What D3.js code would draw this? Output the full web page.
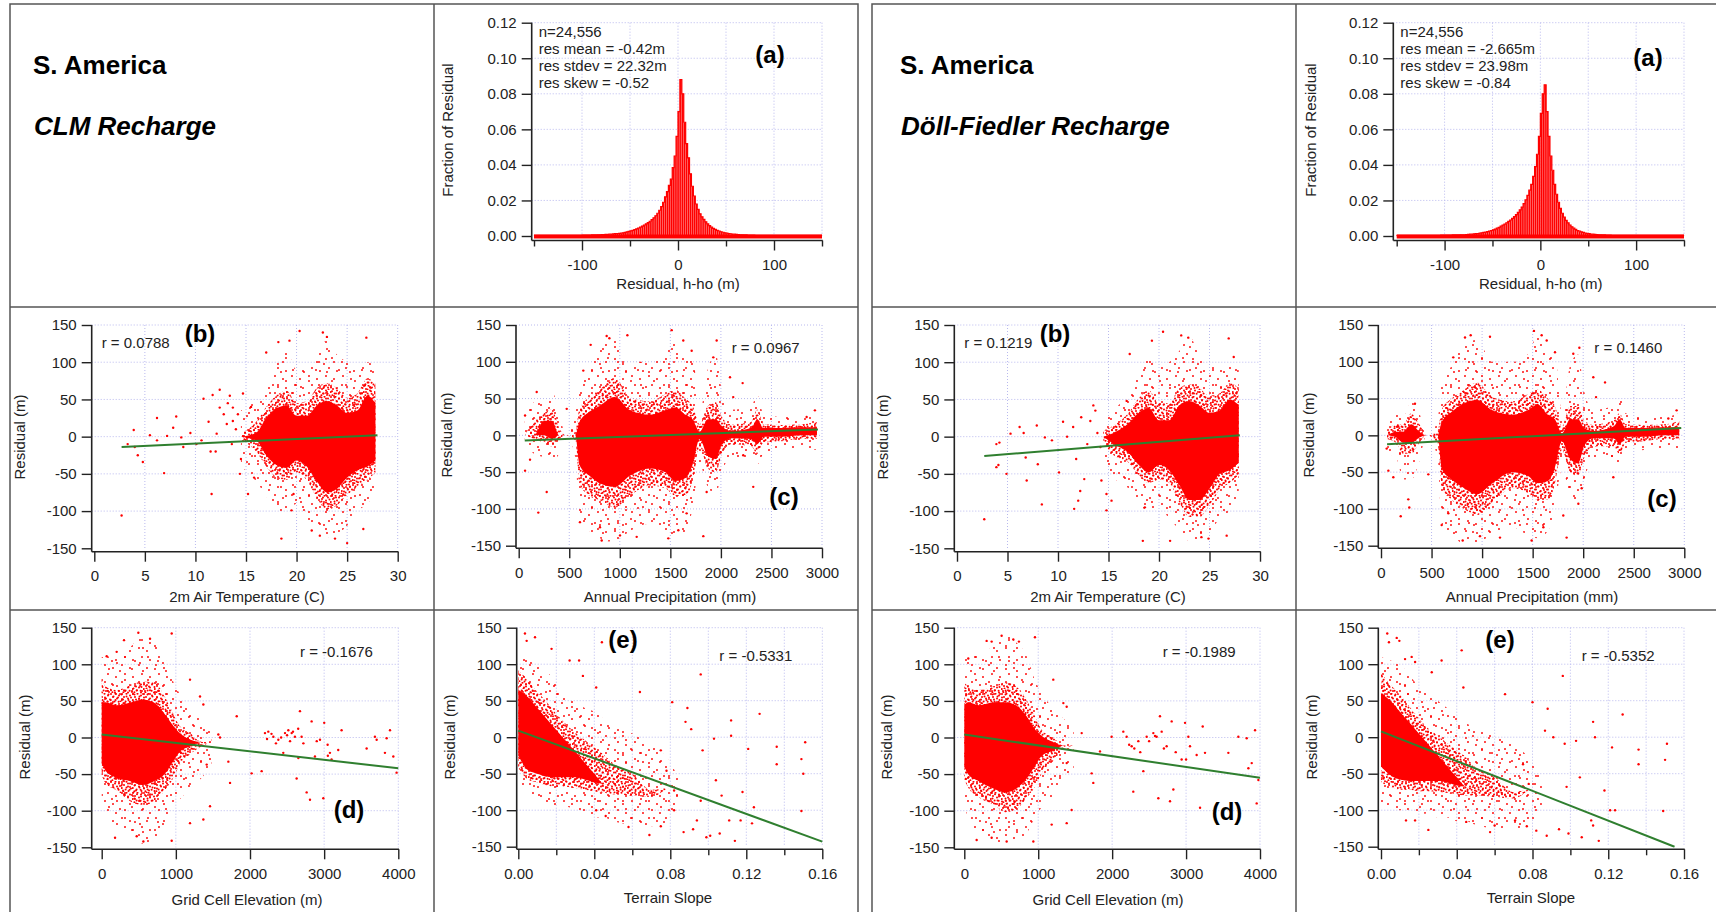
<!DOCTYPE html>
<html>
<head>
<meta charset="utf-8">
<script src="https://cdn.jsdelivr.net/npm/d3@7"></script>
<style>
  body { margin: 0; background: #fff; }
  svg { display: block; }
  text { font-family: Arial, "Liberation Sans", sans-serif; }
</style>
</head>
<body>
<div id="chart"></div>
<script>
// ---------- data ----------
var histBinStart = -150, histBinWidth = 2;

// fraction of residual per 2 m bin, -150 .. 150
var clmHist = [
  0.0003,0.0003,0.0003,0.0003,0.0003,0.0003,0.0003,0.0003,0.0003,0.0003,
  0.0003,0.0003,0.0003,0.0003,0.0003,0.0003,0.0003,0.0004,0.0004,0.0004,
  0.0004,0.0004,0.0004,0.0004,0.0004,0.0005,0.0005,0.0005,0.0005,0.0005,
  0.0006,0.0006,0.0006,0.0007,0.0007,0.0008,0.0008,0.0009,0.0009,0.0010,
  0.0011,0.0012,0.0013,0.0014,0.0015,0.0016,0.0018,0.0020,0.0023,0.0026,
  0.0029,0.0032,0.0036,0.0040,0.0045,0.0050,0.0056,0.0062,0.0068,0.0075,
  0.0083,0.0092,0.0102,0.0114,0.0128,0.0145,0.0165,0.0190,0.0220,0.0250,
  0.0285,0.0320,0.0385,0.0450,0.0560,0.0700,0.0880,0.0800,0.0640,0.0520,
  0.0440,0.0350,0.0280,0.0225,0.0180,0.0150,0.0125,0.0108,0.0094,0.0080,
  0.0068,0.0058,0.0050,0.0043,0.0037,0.0032,0.0028,0.0024,0.0021,0.0018,
  0.0016,0.0014,0.0012,0.0011,0.0010,0.0009,0.0008,0.0007,0.0007,0.0006,
  0.0006,0.0005,0.0005,0.0005,0.0005,0.0004,0.0004,0.0004,0.0004,0.0004,
  0.0003,0.0003,0.0003,0.0003,0.0003,0.0003,0.0003,0.0003,0.0003,0.0003,
  0.0003,0.0003,0.0003,0.0003,0.0003,0.0003,0.0003,0.0003,0.0003,0.0003,
  0.0003,0.0003,0.0003,0.0003,0.0003,0.0003,0.0003,0.0003,0.0003,0.0003
];
var dfHist = [
  0.0003,0.0003,0.0003,0.0003,0.0003,0.0003,0.0003,0.0003,0.0003,0.0003,
  0.0003,0.0003,0.0003,0.0003,0.0003,0.0004,0.0004,0.0004,0.0004,0.0004,
  0.0004,0.0004,0.0004,0.0005,0.0005,0.0005,0.0005,0.0005,0.0005,0.0006,
  0.0006,0.0006,0.0006,0.0007,0.0007,0.0007,0.0008,0.0009,0.0010,0.0011,
  0.0012,0.0013,0.0014,0.0016,0.0018,0.0020,0.0022,0.0025,0.0028,0.0031,
  0.0035,0.0039,0.0044,0.0049,0.0055,0.0061,0.0067,0.0074,0.0082,0.0090,
  0.0099,0.0109,0.0120,0.0133,0.0147,0.0163,0.0182,0.0203,0.0228,0.0258,
  0.0290,0.0335,0.0390,0.0460,0.0560,0.0690,0.0800,0.0850,0.0700,0.0560,
  0.0450,0.0370,0.0290,0.0235,0.0190,0.0155,0.0128,0.0106,0.0088,0.0074,
  0.0062,0.0052,0.0044,0.0037,0.0031,0.0027,0.0023,0.0020,0.0017,0.0015,
  0.0013,0.0011,0.0010,0.0009,0.0008,0.0007,0.0007,0.0006,0.0006,0.0005,
  0.0005,0.0005,0.0004,0.0004,0.0004,0.0004,0.0004,0.0004,0.0004,0.0004,
  0.0003,0.0003,0.0003,0.0003,0.0003,0.0003,0.0003,0.0003,0.0003,0.0003,
  0.0003,0.0003,0.0003,0.0003,0.0003,0.0003,0.0003,0.0003,0.0003,0.0003,
  0.0003,0.0003,0.0003,0.0003,0.0003,0.0003,0.0003,0.0003,0.0003,0.0003
];
var clmStats = ['n=24,556', 'res mean = -0.42m', 'res stdev = 22.32m', 'res skew = -0.52'];
var dfStats  = ['n=24,556', 'res mean = -2.665m', 'res stdev = 23.98m', 'res skew = -0.84'];

// point clouds: [x, sparseLo, denseLo, solidLo, solidHi, denseHi, sparseHi] in residual metres
var clmTempCloud = [[14.5,-40,-5,0,0,5,35],[16,-60,-20,-5,5,20,50],[17,-80,-40,-25,25,40,70],[18,-100,-55,-38,38,55,100],
  [19,-100,-58,-42,42,62,115],[20,-90,-48,-32,28,45,90],[21,-110,-58,-40,28,48,90],[22,-120,-82,-60,42,65,110],
  [23,-135,-98,-75,48,72,130],[24,-130,-92,-70,42,65,110],[25,-120,-78,-55,32,52,100],[26,-100,-68,-45,35,58,90],
  [27,-90,-58,-40,55,78,100],[27.8,-75,-48,-32,45,72,95]];
var dfTempCloud = [[14.5,-35,-8,0,0,8,20],[15.5,-55,-25,-10,5,15,35],[17,-70,-35,-22,18,32,60],[18,-90,-52,-38,32,52,90],
  [19,-100,-62,-48,38,62,110],[20,-95,-58,-38,22,45,95],[21,-110,-62,-45,22,45,100],[22,-125,-88,-65,42,65,115],
  [23,-140,-108,-85,48,70,135],[24,-140,-108,-85,42,65,110],[25,-130,-92,-70,32,55,100],[26,-110,-72,-50,35,58,90],
  [27,-100,-62,-45,50,72,95],[27.9,-80,-52,-35,42,65,90]];
var clmPrecipCloud = [[60,-10,0,0,0,0,25],[150,-25,-5,0,0,20,45],[250,-30,-10,0,20,30,50],[330,-35,-15,-5,20,35,60],
  [400,-25,-5,0,0,10,30],[470,0,0,0,0,0,0],[560,-30,-5,0,0,5,30],[600,-110,-65,-40,18,35,60],[700,-130,-82,-55,32,52,90],
  [800,-140,-88,-65,40,62,120],[950,-145,-98,-70,52,78,130],[1100,-130,-82,-55,34,52,100],[1300,-120,-68,-45,28,46,100],
  [1450,-130,-72,-50,34,56,110],[1550,-140,-82,-62,38,62,130],[1650,-130,-82,-58,28,50,110],[1720,-100,-62,-40,22,40,110],
  [1790,-40,-15,-5,5,15,30],[1870,-70,-45,-28,22,40,90],[1950,-80,-50,-32,22,45,110],[2010,-50,-25,-12,12,25,60],
  [2100,-30,-12,-4,6,15,35],[2300,-30,-15,-5,10,18,40],[2360,-40,-25,-12,22,35,55],[2420,-25,-10,-2,10,15,30],
  [2600,-20,-8,-2,10,14,25],[2800,-18,-5,0,11,15,25],[2950,-20,-5,0,11,18,30]];
var dfPrecipCloud = [[60,-25,-5,0,0,5,15],[150,-30,-10,-3,5,15,30],[220,-60,-25,-10,5,15,25],[300,-60,-25,-10,15,30,45],
  [380,-35,-10,-3,5,15,30],[450,0,0,0,0,0,0],[560,-30,-10,0,0,5,20],[600,-120,-70,-45,18,35,70],[700,-135,-88,-60,32,50,95],
  [800,-145,-98,-70,42,60,120],[950,-145,-108,-80,48,72,130],[1100,-135,-92,-65,34,52,100],[1300,-125,-72,-50,28,46,100],
  [1450,-135,-78,-55,34,56,110],[1550,-140,-88,-65,42,62,135],[1650,-130,-88,-62,28,50,110],[1720,-100,-66,-44,22,40,110],
  [1790,-45,-20,-8,3,12,30],[1870,-80,-50,-32,22,40,95],[1950,-90,-55,-38,22,40,110],[2010,-60,-30,-14,10,20,60],
  [2100,-30,-15,-4,6,15,35],[2300,-30,-15,-4,12,20,40],[2360,-40,-25,-12,22,30,55],[2420,-25,-10,-2,10,15,30],
  [2600,-20,-8,-2,10,14,25],[2800,-18,-5,0,11,15,25],[2950,-20,-5,0,11,20,30]];
var clmElevCloud = [[0,-80,-52,-35,48,80,110],[50,-100,-62,-45,48,70,110],[200,-120,-72,-55,44,65,115],[400,-135,-88,-60,48,72,125],
  [550,-145,-92,-65,52,76,140],[700,-140,-88,-60,48,76,135],[850,-120,-72,-50,32,56,110],[950,-100,-58,-35,18,36,80],
  [1050,-85,-38,-20,6,16,60],[1200,-70,-22,-12,-3,5,35],[1350,-55,-12,-6,-6,-6,25],[1480,-40,-6,-6,-6,-6,10]];
var dfElevCloud = [[0,-90,-58,-40,44,75,110],[50,-110,-68,-50,48,70,110],[200,-130,-82,-60,44,65,115],[400,-140,-92,-70,48,70,125],
  [550,-145,-102,-75,48,75,140],[700,-140,-98,-70,44,70,130],[850,-130,-82,-55,28,50,110],[950,-110,-68,-40,12,30,80],
  [1050,-95,-48,-25,2,10,60],[1200,-80,-32,-18,-6,0,40],[1350,-60,-16,-11,-11,-11,25],[1480,-45,-11,-11,-11,-11,15]];
var clmSlopeCloud = [[0,-60,-42,-25,65,92,115],[0.005,-75,-58,-45,55,78,110],[0.01,-85,-62,-50,40,62,100],[0.015,-90,-66,-54,25,48,90],
  [0.02,-95,-68,-55,10,32,75],[0.025,-95,-68,-55,-5,18,60],[0.03,-100,-70,-55,-20,6,50],[0.035,-105,-72,-58,-35,-4,40],
  [0.04,-110,-74,-62,-50,-14,35],[0.045,-110,-76,-64,-64,-24,25],[0.05,-115,-78,-66,-66,-36,15],[0.06,-120,-80,-70,-70,-50,5],
  [0.07,-122,-82,-75,-75,-72,-10],[0.08,-115,-70,-70,-70,-70,-35],[0.085,-90,-70,-70,-70,-70,-60]];
var dfSlopeCloud = [[0,-90,-62,-40,60,88,110],[0.005,-95,-68,-52,50,72,105],[0.01,-100,-72,-58,35,58,100],[0.015,-100,-72,-60,20,42,85],
  [0.02,-105,-74,-60,5,26,70],[0.025,-105,-74,-60,-10,12,60],[0.03,-110,-75,-60,-25,2,50],[0.035,-110,-76,-62,-40,-8,40],
  [0.04,-115,-78,-66,-55,-18,30],[0.045,-115,-80,-68,-68,-28,20],[0.05,-120,-80,-70,-70,-42,10],[0.06,-125,-82,-72,-72,-55,5],
  [0.07,-125,-84,-78,-78,-75,-10],[0.08,-118,-72,-72,-72,-72,-35],[0.085,-95,-72,-72,-72,-72,-60]];

// isolated points outside the clouds: [x, residual]
var clmTempPts = [[2.7,-106],[3.9,9],[4.0,-14],[4.8,-34],[6.2,25],[6.9,-49],[8.1,27],[8.6,-1],[7.8,12],[10.8,51],[11.7,56],
  [12.4,63],[11.6,-77],[13.4,55],[14.4,-50],[14.7,58],[15.2,-77],[17.0,113],[18.2,127],[19.3,129],[18.5,-137],[19.5,-99],
  [20.3,142],[22.6,140],[23.0,134],[25.0,-143],[26.9,133],[26.6,-124],[21.5,-126],[22.3,-133],[23.8,-137],[19.7,-77],
  [10.6,-5],[10.1,-10],[8.8,-14],[6.2,-5],[7.2,1],[12.1,4],[13.1,17],[13.7,21],[12.4,39],[13.7,39],[12.8,30],[13.2,45],
  [14.0,10],[14.2,30],[11.3,20],[12.0,-20],[13.6,-10],[14.5,-30],[15.5,40],[15.8,-55],[11.5,-20],[9.5,5],[5.5,2],[4.3,-25],[3.3,-10]];
var dfTempPts = [[2.7,-111],[3.9,-10],[4.2,-8],[3.9,-41],[4.1,-38],[4.9,-50],[5.3,4],[6.2,13],[6.6,5],[6.9,-59],[6.8,-28],
  [7.9,15],[8.0,-37],[8.4,-91],[8.7,-1],[9.4,-5],[10.1,-48],[10.9,0],[11.5,13],[11.6,-97],[12.0,-86],[12.2,-73],[12.3,26],
  [12.6,-57],[13.2,21],[13.5,42],[13.7,35],[14.2,-14],[14.3,-59],[14.8,-99],[14.8,-77],[15.3,-86],[16.8,48],[17.1,111],
  [18.4,-140],[18.6,-95],[19.3,129],[20.4,141],[22.2,136],[22.9,133],[24.9,-137],[26.7,-133],[26.9,132],[21.1,-140],
  [24.2,-135],[27.4,107],[12.9,-10],[13.9,5],[11.8,-30],[10.5,20]];
var clmPrecipPts = [[63,27],[112,-33],[63,-48],[178,59],[194,-105],[277,-77],[475,36],[639,88],[712,123],[870,135],[897,132],
  [1075,136],[821,-143],[1002,-136],[1167,-138],[1480,-140],[1513,143],[1628,129],[1711,115],[1826,-137],[1958,129],
  [1925,106],[2090,79],[2215,71],[2122,52],[2320,-70],[1859,-77],[2221,-27],[2930,34],[2848,25],[606,-118],[804,-125],
  [1579,-129],[1661,-106]];
var dfPrecipPts = [[56,-18],[73,-48],[122,-57],[171,12],[195,-110],[270,-87],[280,-98],[336,43],[468,-53],[715,106],[831,133],
  [887,136],[1078,134],[979,-137],[808,-143],[1177,-139],[1490,-143],[1513,142],[1589,136],[1639,129],[1721,113],
  [1836,-139],[1902,111],[1962,119],[2100,79],[2216,72],[2127,52],[2298,-57],[1985,-72],[1952,-93],[2924,34],[2842,23],
  [1803,-109],[1606,-125],[600,-122],[666,-106]];
var clmElevPts = [[67,111],[301,133],[202,117],[494,143],[652,135],[944,142],[180,-137],[472,-135],[562,-142],[944,-141],
  [1191,79],[1326,56],[1371,45],[1371,-112],[1191,-117],[1461,-94],[1416,-37],[1573,4],[1596,0],[1708,-33],[1731,-62],
  [1821,29],[2022,-49],[2157,-46],[2202,6],[2247,8],[2315,1],[2382,-3],[2449,-21],[2472,6],[2517,10],[2562,6],[2606,1],
  [2629,-56],[2652,-28],[2696,1],[2674,36],[2764,-75],[2809,-85],[2831,22],[2876,-26],[2944,-3],[2989,-83],[3001,20],
  [3047,-10],[3078,-21],[3235,10],[3190,-17],[3573,-15],[3685,1],[3708,-3],[3843,-1],[3888,10],[3820,-21],[3933,-26],
  [3977,-48],[2230,-2],[2290,5],[2350,-8],[2420,0],[2500,3],[2540,-5],[2580,8],[2650,12],[2720,-8],[2900,-5],[3050,-25],[3100,-30]];
var dfElevPts = [[54,108],[302,132],[370,131],[505,139],[663,134],[739,131],[956,137],[167,-140],[370,-137],[573,-142],
  [934,-142],[1204,79],[1340,47],[1385,42],[1182,-119],[1385,-117],[1452,-99],[1385,-35],[1588,6],[1723,-49],[1745,-62],
  [1836,-19],[1993,1],[2151,8],[2196,1],[2264,-12],[2354,-5],[2286,-74],[2422,-46],[2467,1],[2557,6],[2602,1],[2670,8],
  [2647,29],[2625,-83],[2783,-87],[2828,-71],[2737,-12],[2805,22],[2940,-30],[2986,20],[3031,1],[3053,-12],[3143,-24],
  [3189,-96],[3225,15],[3256,-21],[3572,-21],[3707,1],[3820,-1],[3888,-35],[3933,10],[3955,-90],[3978,-58],[3843,-42],
  [2230,-10],[2300,-15],[2380,-20],[2500,-5],[2580,2],[2700,-15],[2860,-20],[3000,-30]];
var clmSlopePts = [[0.0035,142],[0.0088,137],[0.0044,132],[0.0175,121],[0.027,105],[0.032,105],[0.044,130],[0.034,84],
  [0.041,68],[0.064,62],[0.081,48],[0.089,40],[0.096,86],[0.088,21],[0.091,11],[0.097,-18],[0.103,-2],[0.112,23],
  [0.112,2],[0.121,-16],[0.127,32],[0.136,-13],[0.136,-37],[0.149,-30],[0.151,-7],[0.150,-50],[0.149,-101],[0.118,-75],
  [0.124,-96],[0.117,-114],[0.123,-118],[0.114,-142],[0.111,-114],[0.106,-132],[0.099,-137],[0.101,-135],[0.087,-130],
  [0.092,-126],[0.094,-114],[0.082,-100],[0.075,-122],[0.069,-134],[0.058,-123],[0.046,-108],[0.041,-100],[0.096,-87],
  [0.104,-59],[0.078,-46],[0.075,-18],[0.082,-73],[0.107,-80]];
var dfSlopePts = [[0.0033,142],[0.0042,130],[0.0083,136],[0.0097,132],[0.0127,107],[0.0162,110],[0.018,103],[0.032,105],
  [0.0268,89],[0.0426,119],[0.0435,68],[0.0655,59],[0.080,48],[0.088,39],[0.096,84],[0.0866,9],[0.091,0],[0.097,-9],
  [0.103,-5],[0.112,21],[0.113,0],[0.122,-14],[0.1276,31],[0.136,-17],[0.136,-37],[0.150,-31],[0.151,-9],[0.149,-101],
  [0.1236,-100],[0.118,-73],[0.121,-100],[0.112,-121],[0.111,-114],[0.115,-142],[0.106,-137],[0.099,-132],[0.094,-126],
  [0.0875,-135],[0.082,-128],[0.077,-122],[0.0708,-114],[0.060,-121],[0.0576,-130],[0.045,-116],[0.025,-127],
  [0.0132,-114],[0.018,-114],[0.098,-68],[0.105,-55],[0.078,-64],[0.075,-37]];

// regression lines: two end points
var clmTempFit = [[2.7,-14],[28,2]],     dfTempFit = [[2.7,-26],[28,2]];
var clmPrecipFit = [[60,-7],[2960,8]],   dfPrecipFit = [[60,-12],[2970,10]];
var clmElevFit = [[0,4],[4000,-42]],     dfElevFit = [[0,4],[4000,-55]];
var clmSlopeFit = [[0,9],[0.16,-143]],   dfSlopeFit = [[0,8],[0.155,-150]];

var clmR = ['r = 0.0788', 'r = 0.0967', 'r = -0.1676', 'r = -0.5331'];
var dfR  = ['r = 0.1219', 'r = 0.1460', 'r = -0.1989', 'r = -0.5352'];

// ticks
var residTicks = [-150, -100, -50, 0, 50, 100, 150];
var residGrid = [-100, -50, 0, 50, 100, 150];
var fracTicks = [0, 0.02, 0.04, 0.06, 0.08, 0.10, 0.12];
var histXTicks = [-100, 0, 100], histXMinor = [-150, -50, 50, 150], histXGrid = [-100, -50, 0, 50, 100, 150];
var tempTicks = [0, 5, 10, 15, 20, 25, 30];
var precipTicks = [0, 500, 1000, 1500, 2000, 2500, 3000];
var elevTicks = [0, 1000, 2000, 3000, 4000];
var slopeTicks = [0, 0.04, 0.08, 0.12, 0.16], slopeMinor = [0.02, 0.06, 0.10, 0.14];
var slopeGrid = [0.02, 0.04, 0.06, 0.08, 0.10, 0.12, 0.14, 0.16];

// ---------- drawing ----------
var W = 1716, H = 912;
var FONT = 'Arial, "Liberation Sans", sans-serif';
var RED = '#ff0000', GREEN = '#2f7f2f', GRID = '#b9b9ee', INK = '#222';

var svg = d3.select('#chart').append('svg').attr('width', W).attr('height', H);
var defs = svg.append('defs');

// dot textures for the thinner parts of the clouds (two tiles of different size overlap to break the grid)
function dotPattern(id, size, r, dots) {
  var p = defs.append('pattern').attr('id', id).attr('patternUnits', 'userSpaceOnUse')
    .attr('width', size).attr('height', size);
  dots.forEach(function(d) {
    p.append('circle').attr('cx', d[0]).attr('cy', d[1]).attr('r', r).attr('fill', RED);
  });
}
dotPattern('denseA', 11, 1.0, [[1,1],[5.5,0.8],[9,2.5],[3,4],[7,5.5],[0.8,7],[4.6,8.6],[8.6,8.8],[2.4,10.2]]);
dotPattern('denseB', 13, 1.0, [[2,2],[7,1.2],[11,3.5],[4.5,5.5],[9.5,7.5],[1,8.5],[6,10.5],[11.5,11],[3.5,12.4]]);
dotPattern('sparseA', 17, 0.95, [[3,2],[11,5],[6,11],[14,14]]);
dotPattern('sparseB', 23, 0.95, [[5,4],[17,2],[10,13],[20,17],[2,19]]);

// panel frames
var frames = svg.append('g').attr('fill', 'none').attr('stroke', '#555').attr('stroke-width', 1.5);
[[10, 858, 434], [872, 1730, 1296]].forEach(function(f) {
  frames.append('rect').attr('x', f[0]).attr('y', 4).attr('width', f[1] - f[0]).attr('height', H + 10);
  frames.append('line').attr('x1', f[2]).attr('x2', f[2]).attr('y1', 4).attr('y2', H);
  [307, 610].forEach(function(yy) {
    frames.append('line').attr('x1', f[0]).attr('x2', f[1]).attr('y1', yy).attr('y2', yy);
  });
});

// titles
function titleBlock(x, name) {
  svg.append('text').attr('x', x).attr('y', 74).attr('font-size', 26).attr('font-weight', 'bold')
    .attr('fill', '#000').text('S. America');
  svg.append('text').attr('x', x + 1).attr('y', 135).attr('font-size', 26).attr('font-weight', 'bold')
    .attr('font-style', 'italic').attr('fill', '#000').text(name);
}
titleBlock(33, 'CLM Recharge');
titleBlock(900, 'Döll-Fiedler Recharge');

var clipCount = 0;
function frame(p) {
  var x = d3.scaleLinear().domain(p.xd).range([p.x0, p.x1]);
  var y = d3.scaleLinear().domain(p.yd).range([p.yb, p.yt]);
  var g = svg.append('g');

  // dotted grid
  g.selectAll(null).data(p.xGrid).enter().append('line')
    .attr('x1', function(d) { return x(d); }).attr('x2', function(d) { return x(d); })
    .attr('y1', p.yt).attr('y2', p.yb)
    .attr('stroke', GRID).attr('stroke-width', 1).attr('stroke-dasharray', '1,2');
  g.selectAll(null).data(p.yGrid).enter().append('line')
    .attr('x1', p.ax).attr('x2', p.x1)
    .attr('y1', function(d) { return y(d); }).attr('y2', function(d) { return y(d); })
    .attr('stroke', GRID).attr('stroke-width', 1).attr('stroke-dasharray', '1,2');

  var id = 'clip' + (clipCount++);
  defs.append('clipPath').attr('id', id).append('rect')
    .attr('x', p.ax).attr('y', p.yt - 1).attr('width', p.x1 - p.ax + 1).attr('height', p.yb - p.yt + 2);
  var plot = g.append('g').attr('clip-path', 'url(#' + id + ')');

  function styleAxis(sel) {
    sel.select('.domain').remove();
    sel.attr('font-size', 15).attr('font-family', FONT);
    sel.selectAll('line').attr('stroke', INK).attr('stroke-width', 1.4);
    sel.selectAll('text').attr('fill', INK);
  }
  var ya = d3.axisLeft(y).tickValues(p.yTicks).tickSize(10).tickPadding(5).tickFormat(p.yFmt);
  g.append('g').attr('transform', 'translate(' + p.ax + ',0)').call(ya).call(styleAxis);
  var xa = d3.axisBottom(x).tickValues(p.xTicks).tickSize(10).tickPadding(9).tickFormat(p.xFmt);
  g.append('g').attr('transform', 'translate(0,' + p.xy + ')').call(xa).call(styleAxis);
  if (p.xMinor) {
    var xm = d3.axisBottom(x).tickValues(p.xMinor).tickSize(6).tickFormat('');
    g.append('g').attr('transform', 'translate(0,' + p.xy + ')').call(xm).call(styleAxis);
  }
  // axis lines
  g.append('line').attr('x1', p.ax).attr('x2', p.ax).attr('y1', p.yt).attr('y2', p.xy)
    .attr('stroke', INK).attr('stroke-width', 1.6);
  g.append('line').attr('x1', p.ax).attr('x2', p.x1 + 0.7).attr('y1', p.xy).attr('y2', p.xy)
    .attr('stroke', INK).attr('stroke-width', 1.6);

  // axis titles
  g.append('text').attr('x', p.xtx).attr('y', p.xty).attr('text-anchor', 'middle')
    .attr('font-size', 15).attr('fill', INK).text(p.xTitle);
  g.append('text').attr('transform', 'translate(' + p.ytx + ',' + p.yty + ') rotate(-90)')
    .attr('text-anchor', 'middle').attr('dy', '0.35em')
    .attr('font-size', 15).attr('fill', INK).text(p.yTitle);
  return { x: x, y: y, g: g, plot: plot };
}

function tag(g, x, y, s) {
  g.append('text').attr('x', x).attr('y', y).attr('text-anchor', 'middle')
    .attr('font-size', 24).attr('font-weight', 'bold').attr('fill', '#000').text(s);
}

function drawHist(p, vals, stats, tagPos) {
  var f = frame(p);
  var bw = f.x(histBinWidth) - f.x(0);
  f.plot.selectAll(null).data(vals).enter().append('rect')
    .attr('x', function(d, i) { return f.x(histBinStart + i * histBinWidth); })
    .attr('width', bw)
    .attr('y', function(d) { return f.y(d); })
    .attr('height', function(d) { return f.y(0) - f.y(d); })
    .attr('fill', RED).attr('stroke', '#ff8c8c').attr('stroke-width', 0.35);
  var steps = vals.map(function(d, i) { return [histBinStart + i * histBinWidth, d]; });
  steps.push([histBinStart + vals.length * histBinWidth, vals[vals.length - 1]]);
  f.plot.append('path').datum(steps)
    .attr('d', d3.line().curve(d3.curveStepAfter)
      .x(function(d) { return f.x(d[0]); }).y(function(d) { return f.y(d[1]); }))
    .attr('fill', 'none').attr('stroke', RED).attr('stroke-width', 1.2);
  f.g.append('line').attr('x1', f.x(-150)).attr('x2', f.x(150))
    .attr('y1', f.y(0) + 0.4).attr('y2', f.y(0) + 0.4).attr('stroke', RED).attr('stroke-width', 4);
  f.g.append('text').attr('font-size', 15).attr('fill', INK)
    .selectAll('tspan').data(stats).enter().append('tspan')
    .attr('x', p.ax + 7).attr('y', function(d, i) { return 37 + i * 17; }).text(function(d) { return d; });
  tag(f.g, tagPos[0], tagPos[1], '(a)');
}

function drawScatter(p, cloud, pts, fit, rText, rPos, tagText, tagPos) {
  var f = frame(p);
  function band(lo, hi) {
    return d3.area().curve(d3.curveMonotoneX)
      .x(function(d) { return f.x(d[0]); })
      .y0(function(d) { return f.y(d[lo]); })
      .y1(function(d) { return f.y(d[hi]); });
  }
  ['sparseA', 'sparseB'].forEach(function(id) {
    f.plot.append('path').datum(cloud).attr('d', band(1, 6)).attr('fill', 'url(#' + id + ')');
  });
  ['denseA', 'denseB'].forEach(function(id) {
    f.plot.append('path').datum(cloud).attr('d', band(2, 5)).attr('fill', 'url(#' + id + ')');
  });
  f.plot.append('path').datum(cloud).attr('d', band(3, 4)).attr('fill', RED);
  f.plot.selectAll(null).data(pts).enter().append('circle')
    .attr('cx', function(d) { return f.x(d[0]); }).attr('cy', function(d) { return f.y(d[1]); })
    .attr('r', 1.2).attr('fill', RED);
  f.plot.append('path').datum(fit)
    .attr('d', d3.line().x(function(d) { return f.x(d[0]); }).y(function(d) { return f.y(d[1]); }))
    .attr('stroke', GREEN).attr('stroke-width', 2).attr('fill', 'none');
  f.g.append('text').attr('x', rPos[0]).attr('y', rPos[1]).attr('font-size', 15).attr('fill', INK).text(rText);
  tag(f.g, tagPos[0], tagPos[1], tagText);
}

var f2 = d3.format('.2f');
var plain = function(d) { return String(d); };
function hist(ax, x0, x1, xtx, ytx) {
  return { ax: ax, x0: x0, x1: x1, xy: 240.5, yt: 22.7, yb: 236, xd: [-150, 150], yd: [0, 0.12],
    xTicks: histXTicks, xMinor: histXMinor, xGrid: histXGrid, yTicks: fracTicks, yGrid: fracTicks.slice(1),
    xFmt: plain, yFmt: f2, xTitle: 'Residual, h-ho (m)', xtx: xtx, xty: 289,
    yTitle: 'Fraction of Residual', ytx: ytx, yty: 130 };
}
function scat(ax, x0, x1, xy, yt, yb, xd, ticks, minor, grid, fmt, title, xtx, xty, ytx, yty) {
  return { ax: ax, x0: x0, x1: x1, xy: xy, yt: yt, yb: yb, xd: xd, yd: [-150, 150],
    xTicks: ticks, xMinor: minor, xGrid: grid, yTicks: residTicks, yGrid: residGrid,
    xFmt: fmt, yFmt: plain, xTitle: title, xtx: xtx, xty: xty, yTitle: 'Residual (m)', ytx: ytx, yty: yty };
}

// left group: CLM recharge
drawHist(hist(531.7, 534, 822, 678, 448), clmHist, clmStats, [770, 63]);
drawScatter(scat(91.7, 94.3, 397.7, 551.7, 325, 548.3, [0, 30], tempTicks, null, tempTicks.slice(1), plain,
  '2m Air Temperature (C)', 247, 602, 20, 437), clmTempCloud, clmTempPts, clmTempFit, clmR[0], [101.7, 348], '(b)', [200, 342]);
drawScatter(scat(516, 518.7, 822, 548.3, 325, 545.7, [0, 3000], precipTicks, null, precipTicks.slice(1), plain,
  'Annual Precipitation (mm)', 670, 602, 447, 435), clmPrecipCloud, clmPrecipPts, clmPrecipFit, clmR[1], [731.7, 352.7], '(c)', [784, 505]);
drawScatter(scat(91.7, 101.7, 398.3, 849.3, 627.7, 847.3, [0, 4000], elevTicks, null, elevTicks.slice(1), plain,
  'Grid Cell Elevation (m)', 247, 905, 25, 737), clmElevCloud, clmElevPts, clmElevFit, clmR[2], [300, 656.7], '(d)', [349, 818]);
drawScatter(scat(516.7, 518.3, 822.3, 849.3, 627.7, 846.7, [0, 0.16], slopeTicks, slopeMinor, slopeGrid, f2,
  'Terrain Slope', 668, 903, 450, 737), clmSlopeCloud, clmSlopePts, clmSlopeFit, clmR[3], [719.3, 661], '(e)', [623, 648]);

// right group: Döll-Fiedler recharge
drawHist(hist(1393.3, 1396.7, 1684, 1540.7, 1311), dfHist, dfStats, [1648, 66]);
drawScatter(scat(954.3, 957, 1260, 551.7, 325, 548.3, [0, 30], tempTicks, null, tempTicks.slice(1), plain,
  '2m Air Temperature (C)', 1108, 602, 883, 437), dfTempCloud, dfTempPts, dfTempFit, dfR[0], [964.3, 348.3], '(b)', [1055, 342]);
drawScatter(scat(1378.3, 1381, 1684.3, 548.3, 325, 545.7, [0, 3000], precipTicks, null, precipTicks.slice(1), plain,
  'Annual Precipitation (mm)', 1532, 602, 1309, 435), dfPrecipCloud, dfPrecipPts, dfPrecipFit, dfR[1], [1594.3, 352.7], '(c)', [1662, 507]);
drawScatter(scat(954.3, 964.3, 1260, 849.3, 627.7, 847.3, [0, 4000], elevTicks, null, elevTicks.slice(1), plain,
  'Grid Cell Elevation (m)', 1108, 905, 887, 737), dfElevCloud, dfElevPts, dfElevFit, dfR[2], [1162.7, 656.7], '(d)', [1227, 820]);
drawScatter(scat(1378.3, 1381, 1684, 849.3, 627.7, 846.7, [0, 0.16], slopeTicks, slopeMinor, slopeGrid, f2,
  'Terrain Slope', 1531, 903, 1312, 737), dfSlopeCloud, dfSlopePts, dfSlopeFit, dfR[3], [1581.7, 661], '(e)', [1500, 648]);
</script>
</body>
</html>
